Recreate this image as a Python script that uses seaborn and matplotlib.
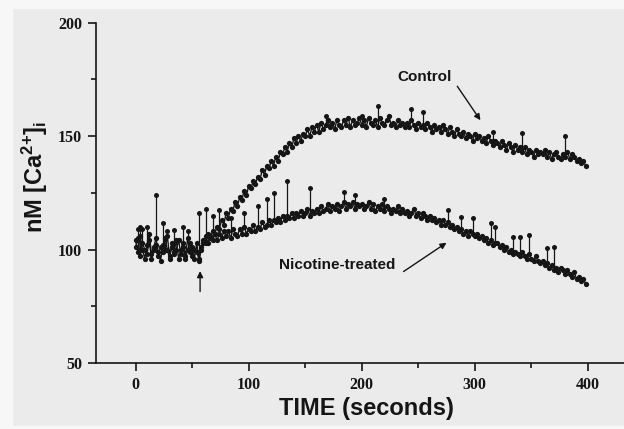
"""
Intracellular calcium over time, control vs nicotine-treated cells.
"""
import numpy as np
import pandas as pd
import matplotlib
matplotlib.use('Agg')
import matplotlib.pyplot as plt
from matplotlib.patches import Rectangle
import seaborn as sns

# sampling every 2 seconds, 0..398
time_s = np.arange(0, 400, 2)

control = [
    104, 99, 106, 100, 96, 102, 107, 98, 101, 105, 99, 95, 102, 100, 106, 97, 101, 99, 104, 96,
    100, 103, 97, 105, 99, 101, 96, 103, 95, 100, 104, 103, 107, 105, 108, 107, 110, 109, 113, 111,
    116, 114, 118, 117, 121, 119, 123, 122, 126, 124, 128, 127, 130, 129, 132, 131, 135, 133, 137, 136,
    139, 137, 141, 139, 143, 142, 145, 143, 147, 145, 149, 147, 150, 148, 151, 150, 153, 150, 154, 152,
    155, 152, 156, 153, 155, 157, 154, 156, 153, 157, 155, 154, 157, 155, 158, 154, 157, 155, 156, 158,
    155, 157, 154, 158, 156, 155, 157, 154, 158, 156, 155, 157, 159, 155, 156, 154, 157, 155, 156, 154,
    156, 154, 157, 155, 153, 156, 154, 155, 153, 156, 154, 152, 155, 153, 154, 152, 155, 153, 151, 154,
    152, 150, 153, 151, 150, 152, 149, 151, 150, 148, 151, 149, 150, 148, 149, 147, 150, 148, 146, 148,
    147, 145, 148, 146, 144, 147, 145, 143, 146, 144, 145, 143, 145, 142, 144, 143, 141, 144, 142, 143,
    142, 144, 141, 143, 140, 142, 143, 141, 140, 142, 141, 143, 140, 142, 141, 139, 140, 138, 139, 137,
]

nicotine = [
    101, 105, 97, 103, 100, 98, 104, 96, 100, 102, 97, 101, 99, 105, 100, 96, 103, 98, 100, 104,
    98, 101, 96, 100, 103, 97, 100, 99, 96, 101, 103, 106, 103, 106, 104, 107, 104, 107, 105, 108,
    106, 108, 105, 109, 107, 106, 109, 107, 110, 107, 109, 108, 111, 108, 110, 109, 112, 110, 111, 113,
    111, 113, 112, 114, 112, 115, 113, 115, 114, 116, 114, 116, 115, 117, 115, 116, 118, 115, 117, 116,
    118, 116, 119, 117, 118, 120, 117, 119, 118, 120, 117, 119, 121, 118, 120, 119, 121, 118, 120, 119,
    120, 118, 119, 121, 118, 120, 117, 119, 118, 120, 117, 119, 118, 116, 118, 117, 119, 116, 118, 116,
    117, 115, 116, 118, 115, 116, 114, 116, 115, 113, 115, 113, 114, 112, 113, 111, 113, 111, 112, 110,
    111, 109, 110, 108, 109, 107, 108, 106, 108, 107, 106, 107, 105, 106, 104, 105, 103, 104, 102, 103,
    103, 101, 102, 100, 101, 99, 100, 98, 99, 98, 97, 99, 97, 96, 98, 96, 95, 97, 95, 94,
    95, 93, 94, 92, 93, 91, 92, 90, 92, 91, 89, 91, 89, 88, 90, 87, 88, 86, 87, 85,
]

# upward error bars (time, top of bar)
control_bar_t = [2, 10, 18, 28, 168, 200, 214, 244, 254, 316, 342, 380]
control_bar_top = [109, 110, 124, 108, 159, 159, 163.5, 162, 160.5, 152, 151.5, 150]
nicotine_bar_t = [4, 6, 24, 34, 42, 46, 56, 62, 68, 74, 84, 96, 108, 116, 122, 134, 154,
                  184, 194, 220, 276, 288, 298, 314, 318, 334, 340, 348, 364, 370]
nicotine_bar_top = [110, 109, 111.5, 108.5, 110, 108, 116, 118, 115, 117.5, 114, 116, 119, 122.5, 125,
                    130, 127, 125.5, 124, 122.5, 117.5, 114.5, 114, 111.5, 110, 105.5, 105.5, 106.5,
                    100.5, 101]

BG = '#ebebeb'
EDGE = '#f7f7f7'
INK = '#151515'


def plot():
    sns.set_style('ticks')
    plt.rcParams['font.family'] = ['Liberation Sans', 'DejaVu Sans']
    plt.rcParams['mathtext.fontset'] = 'custom'
    plt.rcParams['mathtext.rm'] = 'Liberation Sans:bold'
    plt.rcParams['mathtext.bf'] = 'Liberation Sans:bold'
    plt.rcParams['mathtext.it'] = 'Liberation Sans:bold'

    data = pd.DataFrame({
        'time': np.concatenate([time_s, time_s]),
        'value': control + nicotine,
        'group': ['Control'] * len(time_s) + ['Nicotine-treated'] * len(time_s),
    })

    fig = plt.figure(figsize=(6.24, 4.29), dpi=100, facecolor=BG)
    # pale scan margins
    fig.patches.append(Rectangle((0, 0), 12 / 624, 1, transform=fig.transFigure,
                                 color=EDGE, zorder=-1))
    fig.patches.append(Rectangle((0, 1 - 8 / 429), 1, 8 / 429, transform=fig.transFigure,
                                 color=EDGE, zorder=-1))
    fig.patches.append(Rectangle((0, 0), 1, 3 / 429, transform=fig.transFigure,
                                 color=EDGE, zorder=-1))

    ax = fig.add_axes([0.154, 0.154, 0.846, 0.793])
    ax.patch.set_alpha(0)

    sns.lineplot(
        data=data, x='time', y='value', hue='group', units='group',
        estimator=None, palette=[INK, INK], marker='o', markersize=3.8,
        markeredgewidth=0, linewidth=1.0, legend=False, ax=ax, sort=True,
    )

    lookup_c = dict(zip(time_s, control))
    lookup_n = dict(zip(time_s, nicotine))
    for ts, tops, lookup in [(control_bar_t, control_bar_top, lookup_c),
                             (nicotine_bar_t, nicotine_bar_top, lookup_n)]:
        bases = [lookup[t] for t in ts]
        ax.vlines(ts, bases, tops, color=INK, linewidth=0.9)
        ax.plot(ts, tops, 'o', color=INK, markersize=3.6, markeredgewidth=0)

    ax.set_xlim(-35, 432)
    ax.set_ylim(50, 200)
    ax.set_xticks([0, 100, 200, 300, 400])
    ax.set_xticks([50, 150, 250, 350], minor=True)
    ax.set_yticks([50, 100, 150, 200])
    ax.set_yticks([75, 125, 175], minor=True)
    sns.despine(ax=ax)
    for side in ['left', 'bottom']:
        ax.spines[side].set_linewidth(1.2)
        ax.spines[side].set_color(INK)
    ax.tick_params(which='major', length=6, width=1.2, color=INK, pad=4)
    ax.tick_params(which='minor', length=3.5, width=1.2, color=INK)
    for lab in ax.get_xticklabels() + ax.get_yticklabels():
        lab.set_family('Liberation Serif')
        lab.set_fontweight('bold')
        lab.set_fontsize(11.5)
        lab.set_color(INK)
    ax.set_xlabel('')
    ax.set_ylabel('')

    fig.text(366 / 624, 1 - 408 / 429, 'TIME (seconds)', ha='center', va='center',
             fontsize=17, fontweight='bold', color=INK)
    fig.text(35 / 624, 1 - 177 / 429, r'nM [Ca$^{2{+}}$]$_{\mathrm{i}}$', ha='center',
             va='center', rotation=90, fontsize=17, fontweight='bold', color=INK)

    ax.text(256, 176, 'Control', ha='center', va='center',
            fontsize=11, fontweight='bold', color=INK)
    ax.annotate('', xy=(305, 157), xytext=(284.5, 172),
                arrowprops=dict(arrowstyle='-|>', color=INK, lw=1.0,
                                shrinkA=0, shrinkB=0, mutation_scale=9))
    ax.text(178, 93, 'Nicotine-treated', ha='center', va='center',
            fontsize=11, fontweight='bold', color=INK)
    ax.annotate('', xy=(275, 103), xytext=(237, 90.3),
                arrowprops=dict(arrowstyle='-|>', color=INK, lw=1.0,
                                shrinkA=0, shrinkB=0, mutation_scale=9))
    ax.annotate('', xy=(57, 90.5), xytext=(57, 81.5),
                arrowprops=dict(arrowstyle='-|>', color=INK, lw=1.0,
                                shrinkA=0, shrinkB=0, mutation_scale=9))

    plt.savefig('out.png', dpi=100, facecolor=BG)


if __name__ == '__main__':

    plot()
